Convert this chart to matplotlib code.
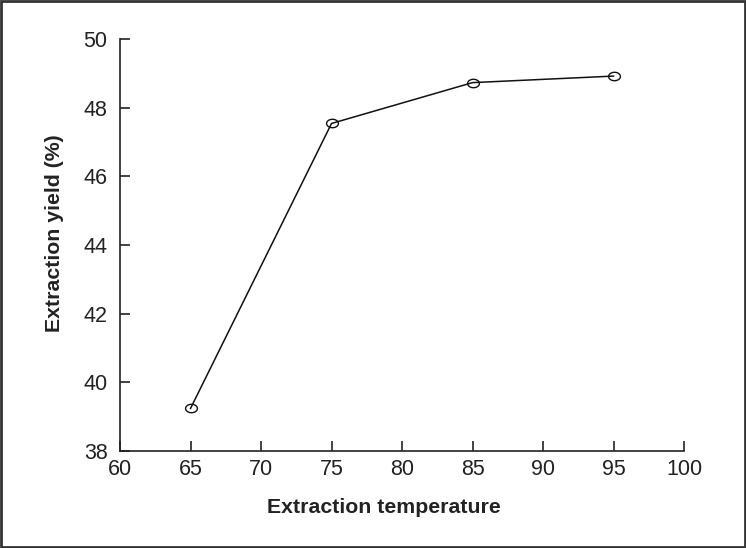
import numpy as np
import matplotlib
matplotlib.use("Agg")
import matplotlib.pyplot as plt
from matplotlib.path import Path
from matplotlib.patches import Rectangle

plt.rcParams['font.family'] = ['Liberation Sans', 'DejaVu Sans']

# данные
temperature = [65, 75, 85, 95]
yield_pct = [39.24, 47.54, 48.73, 48.92]
x_ticks = [60, 65, 70, 75, 80, 85, 90, 95, 100]
y_ticks = [38, 40, 42, 44, 46, 48, 50]

# маркер - слегка сплюснутый круг
t = np.linspace(0, 2 * np.pi, 60)
ellipse = Path(np.column_stack([1.4 * np.cos(t), np.sin(t)]), closed=True)

fig = plt.figure(figsize=(7.46, 5.48), dpi=100)
ax = fig.add_axes([0.1609, 0.177, 0.756, 0.7518])

ax.plot(temperature, yield_pct, color='#111111', linewidth=1.1,
        marker=ellipse, markersize=8.5, markerfacecolor='none',
        markeredgecolor='#111111', markeredgewidth=1.0)

ax.set_xlim(60, 100)
ax.set_ylim(38, 50)
ax.set_xticks(x_ticks)
ax.set_yticks(y_ticks)
ax.tick_params(direction='in', length=7, width=1.2, colors='#222222',
               labelsize=15.5)
ax.tick_params(axis='y', pad=9)
ax.tick_params(axis='x', pad=6)

for s in ['top', 'right']:
    ax.spines[s].set_visible(False)
for s in ['left', 'bottom']:
    ax.spines[s].set_linewidth(1.2)
    ax.spines[s].set_color('#222222')

ax.set_xlabel("Extraction temperature", fontsize=15.3, fontweight='bold',
              color='#222222')
ax.xaxis.set_label_coords(0.468, -0.113)
ax.set_ylabel("Extraction yield (%)", fontsize=15.3, fontweight='bold',
              color='#222222')
ax.yaxis.set_label_coords(-0.1, 0.529)

# рамка вокруг всей картинки
fig.patches.append(Rectangle((0.0015, 0.002), 0.997, 0.996, transform=fig.transFigure,
                             fill=False, edgecolor='#333333', linewidth=2))

fig.savefig("out.png", dpi=100)
